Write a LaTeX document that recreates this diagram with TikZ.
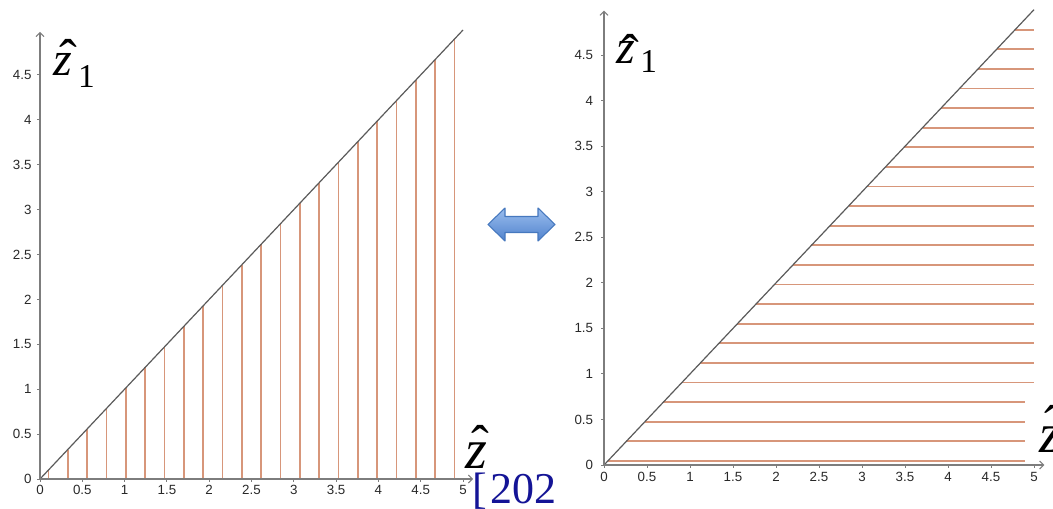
\documentclass[tikz,border=0pt]{standalone}
\usepackage{fontspec}
\setmainfont{Liberation Serif}
\setsansfont{Liberation Sans}
\usetikzlibrary{arrows.meta}
\definecolor{axisgray}{RGB}{125,125,125}
\definecolor{diaggray}{RGB}{90,90,90}
\definecolor{hatch}{RGB}{215,150,122}
\definecolor{ticktext}{RGB}{40,40,40}
\definecolor{navytext}{RGB}{20,20,150}
\definecolor{arrowlight}{RGB}{155,190,238}
\definecolor{arrowdark}{RGB}{80,130,205}
\definecolor{arrowedge}{RGB}{70,120,190}
\newcommand{\hatz}[3]{\makebox[0pt][l]{\makebox[#1][c]{\raisebox{#2}{\fontsize{40}{40}\selectfont\upshape ˆ}}}z#3}
\newcommand{\subone}[2]{\kern#1\raisebox{#2}{\fontsize{25}{25}\selectfont\upshape 1}}
\tikzset{
  axisline/.style={draw=axisgray, line width=1pt, -{Straight Barb[length=3pt,width=6pt,line width=0.8pt]}},
  diagline/.style={draw=diaggray, line width=0.9pt},
  hatchline/.style={draw=hatch, line width=1.4pt},
  tickmark/.style={draw=axisgray, line width=0.7pt},
  ticklabel/.style={text=ticktext, font=\sffamily\fontsize{10}{11}\selectfont, inner sep=0pt},
  zlabel/.style={inner sep=0pt, anchor=base west, font=\fontsize{36}{36}\selectfont\itshape},
  bigzlabel/.style={inner sep=0pt, anchor=base west, font=\fontsize{42}{42}\selectfont\itshape},
  citelabel/.style={inner sep=0pt, anchor=base west, text=navytext, font=\fontsize{33}{33}\selectfont},
  dblarrow/.style={draw=arrowedge, line width=0.8pt, top color=arrowlight, bottom color=arrowdark, line join=round},
}
\begin{document}
\begin{tikzpicture}[x=0.75pt,y=-0.75pt]
\useasboundingbox (0,0) rectangle (1053,508);
\clip (0,0) rectangle (1053,508);

% ---------------- left plot ----------------
\begin{scope}[shift={(30pt,-359.25pt)}, x=63.45pt, y=67.35pt]
  \coordinate (LO) at (0,0);
  \coordinate (LX) at (5.12,0);
  \coordinate (LY) at (0,4.98);
  \coordinate (LD) at (5,5);
  \foreach \k in {0,...,21}{
    \pgfmathsetmacro{\xv}{0.1+\k*4.8/21}
    \draw[hatchline] (\xv,0) -- (\xv,\xv);
  }
  \draw[diagline] (LO) -- (LD);
  \draw[axisline] (LO) -- (LX);
  \draw[axisline] (LO) -- (LY);
  \foreach \v/\t [count=\i] in {0/0,0.5/0.5,1/1,1.5/1.5,2/2,2.5/2.5,3/3,3.5/3.5,4/4,4.5/4.5,5/5}{
    \draw[tickmark] (\v,0) -- ++(0pt,-2pt);
    \node[ticklabel, anchor=north] (lxl\i) at ([yshift=-4.5pt]\v,0) {\t};
  }
  \foreach \v/\t [count=\i] in {0/0,0.5/0.5,1/1,1.5/1.5,2/2,2.5/2.5,3/3,3.5/3.5,4/4,4.5/4.5}{
    \draw[tickmark] (0,\v) -- ++(-2pt,0pt);
    \node[ticklabel, anchor=east] (lyl\i) at ([xshift=-6.2pt]0,\v) {\t};
  }
\end{scope}

% left axis labels
\node[zlabel] (lz1) at (53,75) {\hatz{22.5pt}{-0.75pt}{\subone{4.7pt}{-9pt}}};
\node[bigzlabel] (lz2) at (465,468) {\hatz{22.5pt}{4.5pt}{}};

% citation fragment (clipped by the right panel)
\begin{scope}
  \clip (0,0) rectangle (556,508);
  \node[citelabel] (cite) at (472,503) {[\kern3pt 202};
\end{scope}

% double arrow
\path[dblarrow] (488,224.5) -- (505,208) -- (505,216.5) -- (538,216.5) -- (538,208)
  -- (555,224.5) -- (538,241) -- (538,232.5) -- (505,232.5) -- (505,241) -- cycle;

% ---------------- right plot ----------------
\begin{scope}[shift={(453pt,-348.75pt)}, x=64.5pt, y=68.3pt]
  \coordinate (RO) at (0,0);
  \coordinate (RX) at (5.12,0);
  \coordinate (RY) at (0,4.99);
  \coordinate (RD) at (5,5);
  \foreach \k in {0,...,22}{
    \pgfmathsetmacro{\yv}{0.045+\k*(4.78-0.045)/22}
    \pgfmathsetmacro{\xe}{\yv<0.75 ? 4.9 : 5.0}
    \draw[hatchline] (\yv,\yv) -- (\xe,\yv);
  }
  \draw[diagline] (RO) -- (RD);
  \draw[axisline] (RO) -- (RX);
  \draw[axisline] (RO) -- (RY);
  \foreach \v/\t [count=\i] in {0/0,0.5/0.5,1/1,1.5/1.5,2/2,2.5/2.5,3/3,3.5/3.5,4/4,4.5/4.5,5/5}{
    \draw[tickmark] (\v,0) -- ++(0pt,-2pt);
    \node[ticklabel, anchor=north] (rxl\i) at ([yshift=-5pt]\v,0) {\t};
  }
  \foreach \v/\t [count=\i] in {0/0,0.5/0.5,1/1,1.5/1.5,2/2,2.5/2.5,3/3,3.5/3.5,4/4,4.5/4.5}{
    \draw[tickmark] (0,\v) -- ++(-2pt,0pt);
    \node[ticklabel, anchor=east] (ryl\i) at ([xshift=-8pt]0,\v) {\t};
  }
\end{scope}

% right axis labels
\node[zlabel] (rz1) at (616,63) {\hatz{21pt}{-6pt}{\subone{4pt}{-6.75pt}}};
\node[bigzlabel] (rz2) at (1039,452) {\hatz{21pt}{7.5pt}{}};
\end{tikzpicture}
\end{document}
